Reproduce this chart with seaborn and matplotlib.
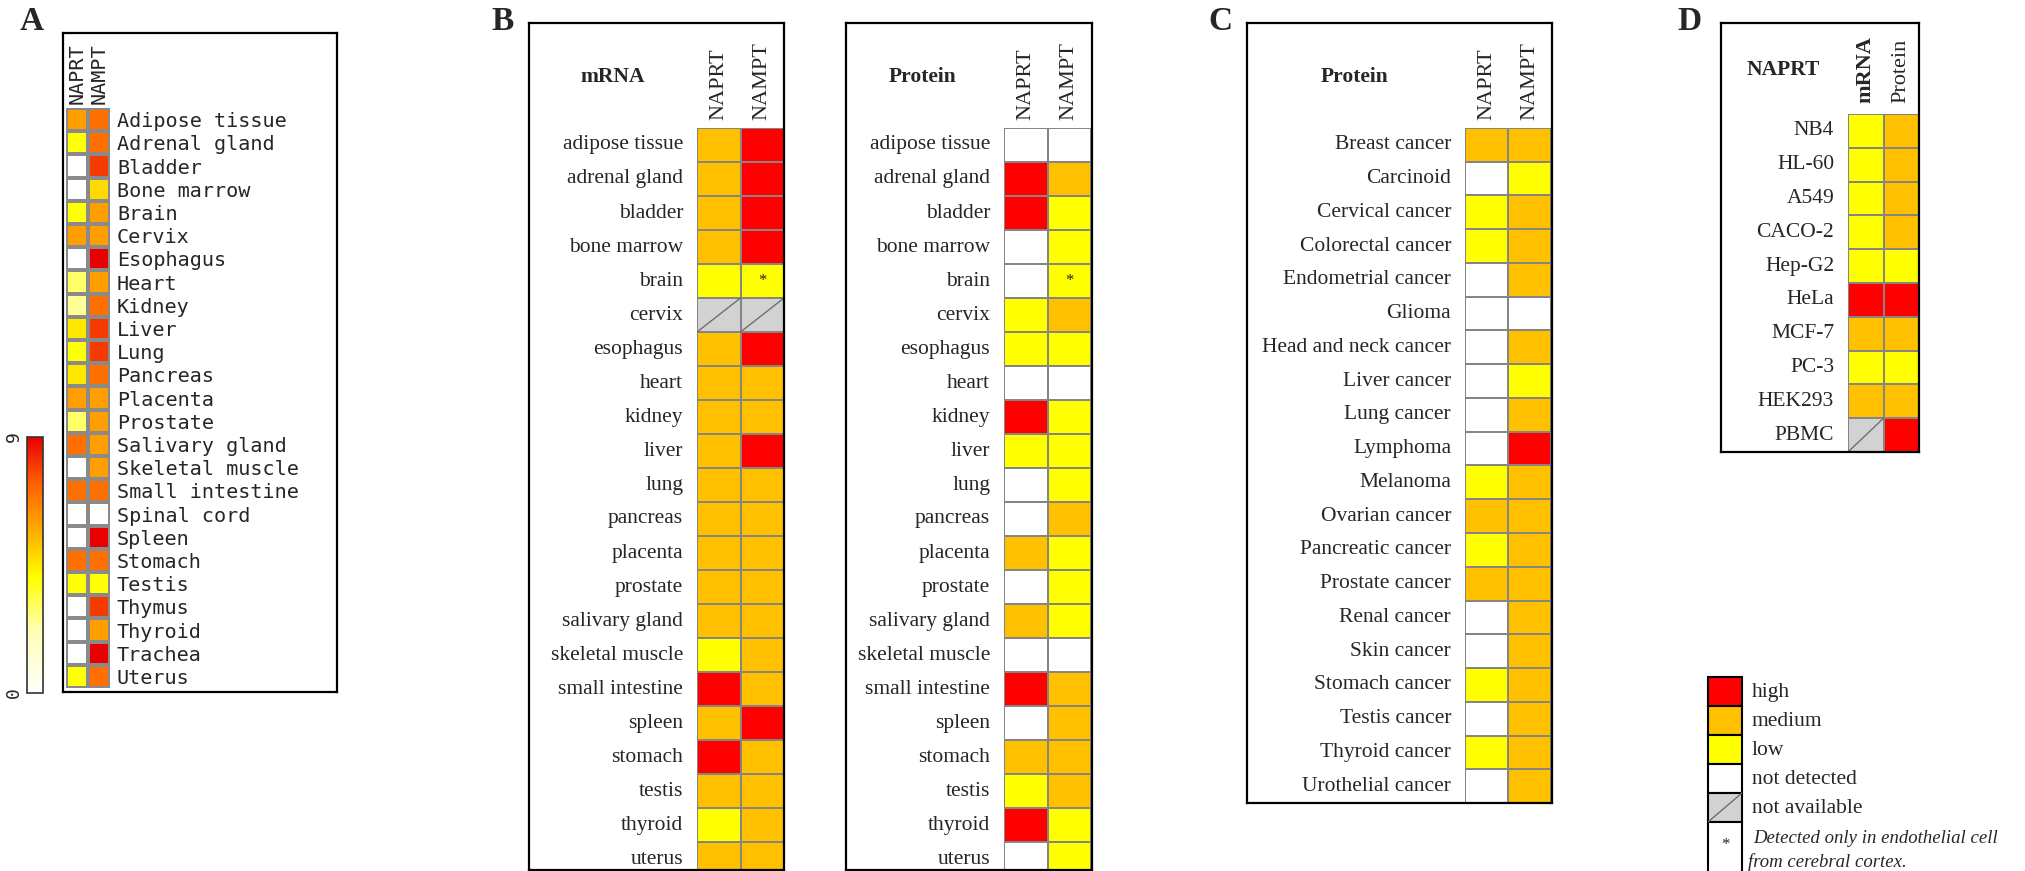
import numpy as np
import pandas as pd
import matplotlib
matplotlib.use("Agg")
import matplotlib.pyplot as plt
import seaborn as sns
from matplotlib.colors import ListedColormap, LinearSegmentedColormap
from matplotlib.patches import Rectangle

nan = np.nan

# ---- Panel A: tissue expression score (0-9)
a_tissues = ['Adipose tissue', 'Adrenal gland', 'Bladder', 'Bone marrow', 'Brain', 'Cervix',
             'Esophagus', 'Heart', 'Kidney', 'Liver', 'Lung', 'Pancreas', 'Placenta',
             'Prostate', 'Salivary gland', 'Skeletal muscle', 'Small intestine', 'Spinal cord',
             'Spleen', 'Stomach', 'Testis', 'Thymus', 'Thyroid', 'Trachea', 'Uterus']
a_naprt = [6, 4, 0, 0, 4, 6, 0, 3, 2.5, 4.5, 4, 4.5, 6, 3, 7, 0, 7, 0, 0, 7, 4, 0, 0, 0, 4]
a_nampt = [7, 7, 8, 4.8, 6, 6, 9, 6, 7, 8, 8, 7, 6, 6, 6, 6, 7, 0, 9, 7, 4, 8, 6, 9, 7]

# ---- levels: 0 not detected, 1 low, 2 medium, 3 high, nan not available
genes = ['NAPRT', 'NAMPT']
b_tissues = ['adipose tissue', 'adrenal gland', 'bladder', 'bone marrow', 'brain', 'cervix',
             'esophagus', 'heart', 'kidney', 'liver', 'lung', 'pancreas', 'placenta',
             'prostate', 'salivary gland', 'skeletal muscle', 'small intestine', 'spleen',
             'stomach', 'testis', 'thyroid', 'uterus']
b_mrna_naprt = [2, 2, 2, 2, 1, nan, 2, 2, 2, 2, 2, 2, 2, 2, 2, 1, 3, 2, 3, 2, 1, 2]
b_mrna_nampt = [3, 3, 3, 3, 1, nan, 3, 2, 2, 3, 2, 2, 2, 2, 2, 2, 2, 3, 2, 2, 2, 2]
b_prot_naprt = [0, 3, 3, 0, 0, 1, 1, 0, 3, 1, 0, 0, 2, 0, 2, 0, 3, 0, 2, 1, 3, 0]
b_prot_nampt = [0, 2, 1, 1, 1, 2, 1, 0, 1, 1, 1, 2, 1, 1, 1, 0, 2, 2, 2, 2, 1, 1]

c_cancers = ['Breast cancer', 'Carcinoid', 'Cervical cancer', 'Colorectal cancer',
             'Endometrial cancer', 'Glioma', 'Head and neck cancer', 'Liver cancer',
             'Lung cancer', 'Lymphoma', 'Melanoma', 'Ovarian cancer', 'Pancreatic cancer',
             'Prostate cancer', 'Renal cancer', 'Skin cancer', 'Stomach cancer',
             'Testis cancer', 'Thyroid cancer', 'Urothelial cancer']
c_naprt = [2, 0, 1, 1, 0, 0, 0, 0, 0, 0, 1, 2, 1, 2, 0, 0, 1, 0, 1, 0]
c_nampt = [2, 1, 2, 2, 2, 0, 2, 1, 2, 3, 2, 2, 2, 2, 2, 2, 2, 2, 2, 2]

d_cells = ['NB4', 'HL-60', 'A549', 'CACO-2', 'Hep-G2', 'HeLa', 'MCF-7', 'PC-3', 'HEK293', 'PBMC']
d_cols = ['mRNA', 'Protein']
d_mrna = [1, 1, 1, 1, 1, 3, 2, 1, 2, nan]
d_prot = [2, 2, 2, 2, 1, 3, 2, 1, 2, 3]

legend_labels = ['high', 'medium', 'low', 'not detected', 'not available']
level_colors = ['#FFFFFF', '#FFFF00', '#FFC000', '#FF0000', '#D2D2D2']

sns.set_style('white')
plt.rcParams['font.family'] = ['Liberation Serif', 'DejaVu Serif']

W, H = 2025, 871
fig = plt.figure(figsize=(W / 100, H / 100), dpi=100)


def add_ax(x0, y0, x1, y1):
    return fig.add_axes([x0 / W, 1 - y1 / H, (x1 - x0) / W, (y1 - y0) / H])


def draw_frame(x0, y0, x1, y1):
    ax = add_ax(x0, y0, x1, y1)
    ax.set_xticks([])
    ax.set_yticks([])
    ax.patch.set_alpha(0)
    for s in ax.spines.values():
        s.set_visible(True)
        s.set_color('black')
        s.set_linewidth(1.6)
    ax.set_zorder(5)


def fig_text(x, y, s, **kw):
    fig.text(x / W, 1 - y / H, s, **kw)


level_cmap = ListedColormap(level_colors)


def level_panel(cells, columns, rows, cols, star_rows=(), col_bold=(), col_pad=6):
    ax = add_ax(*cells)
    arr = np.array(columns, dtype=float).T
    shown = np.where(np.isnan(arr), 4, arr)
    df = pd.DataFrame(shown, index=rows, columns=cols)
    sns.heatmap(df, ax=ax, cmap=level_cmap, vmin=-0.5, vmax=4.5, cbar=False,
                linewidths=1.2, linecolor='#858585')
    for i, j in zip(*np.where(np.isnan(arr))):
        ax.plot([j, j + 1], [i + 1, i], color='#6e6e6e', lw=1)
    for i in star_rows:
        ax.text(1.5, i + 0.5, '*', ha='center', va='center', fontsize=12)
    ax.xaxis.tick_top()
    ax.tick_params(axis='both', length=0)
    ax.tick_params(axis='x', pad=col_pad)
    ax.tick_params(axis='y', pad=10)
    ax.set_xticklabels(cols, rotation=90, fontsize=16)
    for lab in ax.get_xticklabels():
        if lab.get_text() in col_bold:
            lab.set_fontweight('bold')
    ax.set_yticklabels(rows, rotation=0, fontsize=15.5)
    ax.set_xlabel('')
    ax.set_ylabel('')
    return ax


# ---------------- Panel A
draw_frame(63, 33, 337, 692)
axA = add_ax(66, 108, 110, 688)
cax = add_ax(27, 437, 43, 693)
expr_cmap = LinearSegmentedColormap.from_list(
    'expr', [(0.0, '#FFFFFF'), (0.25, '#FFFFB0'), (0.45, '#FFFF00'),
             (0.65, '#FFA500'), (0.82, '#FF6000'), (1.0, '#E80000')])
dfA = pd.DataFrame({'NAPRT': a_naprt, 'NAMPT': a_nampt}, index=a_tissues)
sns.heatmap(dfA, ax=axA, cmap=expr_cmap, vmin=0, vmax=9, cbar_ax=cax,
            linewidths=1.5, linecolor='#8a8a8a')
axA.xaxis.tick_top()
axA.yaxis.tick_right()
axA.tick_params(axis='both', length=0)
axA.tick_params(axis='y', pad=5)
axA.tick_params(axis='x', pad=3)
axA.set_xticklabels(dfA.columns, rotation=90, fontsize=14.5, family='DejaVu Sans Mono')
axA.set_yticklabels(a_tissues, rotation=0, fontsize=14.5, family='DejaVu Sans Mono')
cb = axA.collections[0].colorbar
cb.outline.set_linewidth(1.2)
cb.outline.set_edgecolor('#333333')
cax.yaxis.set_ticks_position('left')
cax.set_yticks([0, 9])
cax.set_yticklabels(['0', '9'], rotation=90, fontsize=13, family='DejaVu Sans Mono', va='center')
cax.tick_params(length=0, pad=3)

# ---------------- Panel B
draw_frame(529, 23, 784, 870)
level_panel((697, 128, 784, 876), [b_mrna_naprt, b_mrna_nampt], b_tissues, genes, star_rows=[4])
fig_text(613, 77, 'mRNA', ha='center', va='center', fontsize=15.5, fontweight='bold')

draw_frame(846, 23, 1092, 870)
level_panel((1004, 128, 1091, 876), [b_prot_naprt, b_prot_nampt], b_tissues, genes, star_rows=[4])
fig_text(923, 77, 'Protein', ha='center', va='center', fontsize=15.5, fontweight='bold')

# ---------------- Panel C
draw_frame(1247, 23, 1552, 803)
level_panel((1465, 128, 1551, 803), [c_naprt, c_nampt], c_cancers, genes)
fig_text(1355, 77, 'Protein', ha='center', va='center', fontsize=15.5, fontweight='bold')

# ---------------- Panel D
draw_frame(1721, 23, 1919, 452)
level_panel((1848, 114, 1919, 452), [d_mrna, d_prot], d_cells, d_cols, col_bold=('mRNA',), col_pad=8)
fig_text(1783, 70, 'NAPRT', ha='center', va='center', fontsize=15.5, fontweight='bold')

# ---------------- Legend
axL = add_ax(1708, 677, 1742, 870)
axL.set_xlim(0, 1)
axL.set_ylim(193, 0)
axL.axis('off')
leg_vals = [3, 2, 1, 0, 4]
for k, v in enumerate(leg_vals):
    axL.add_patch(Rectangle((0, k * 29), 1, 29, facecolor=level_colors[v],
                            edgecolor='black', lw=1.5, clip_on=False))
    fig_text(1752, 677 + k * 29 + 15, legend_labels[k], ha='left', va='center', fontsize=15.5)
axL.plot([0, 1], [4 * 29 + 29, 4 * 29], color='#6e6e6e', lw=1)
axL.add_patch(Rectangle((0, 145), 1, 52, facecolor='white', edgecolor='black', lw=1.5, clip_on=False))
axL.text(0.5, 168, '*', ha='center', va='center', fontsize=12)
fig_text(1753, 838, 'Detected only in endothelial cell', ha='left', va='center',
         fontsize=13.5, style='italic')
fig_text(1748, 862, 'from cerebral cortex.', ha='left', va='center',
         fontsize=13.5, style='italic')

# ---------------- Panel letters
for letter, lx in [('A', 32), ('B', 503), ('C', 1220), ('D', 1690)]:
    fig_text(lx, 21, letter, ha='center', va='center', fontsize=24, fontweight='bold')

fig.savefig('out.png', dpi=100)
